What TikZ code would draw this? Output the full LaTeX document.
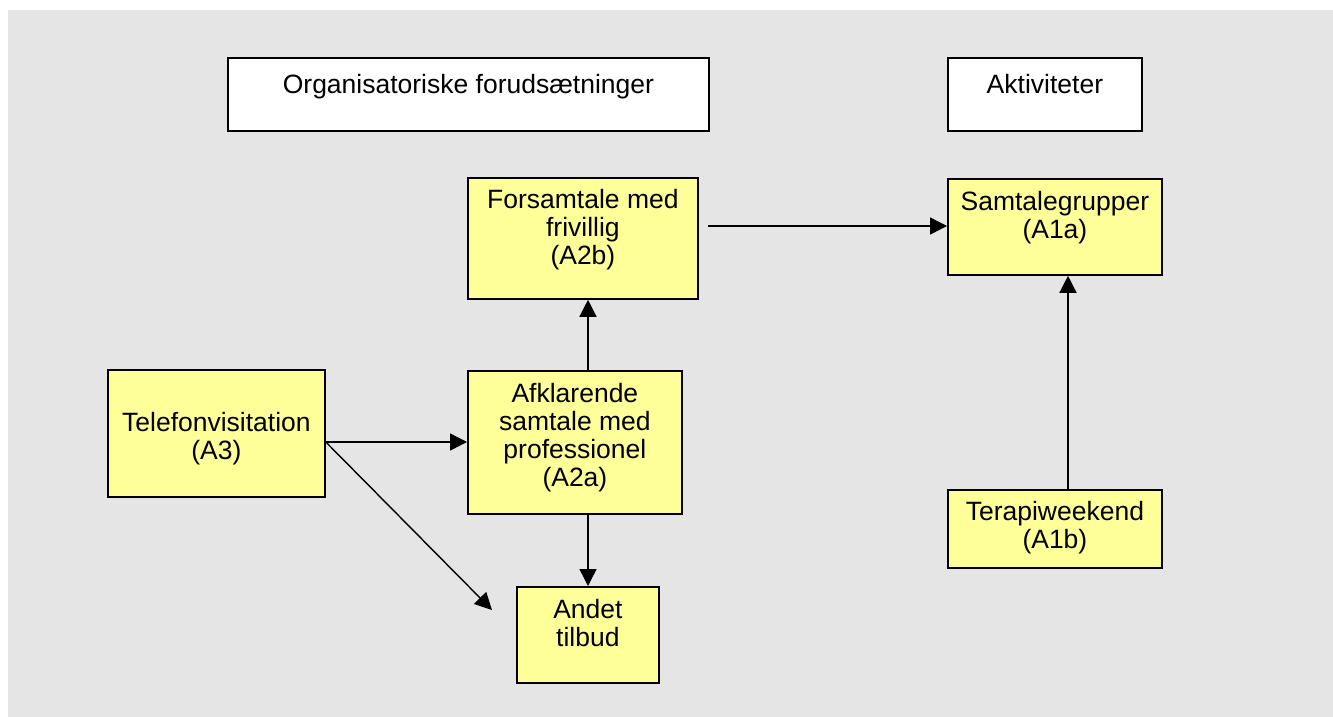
\documentclass[tikz,border=0pt]{standalone}
\usepackage{fontspec}
\setmainfont{Liberation Sans}
\usetikzlibrary{arrows.meta}
\definecolor{bggray}{HTML}{E5E5E5}
\definecolor{boxyellow}{HTML}{FFFF99}
\begin{document}
\begin{tikzpicture}[x=1pt,y=-1pt,
  boxbase/.style={draw=black, line width=1.8pt, inner sep=0pt, anchor=north west},
  yelbox/.style={boxbase, fill=boxyellow},
  whitebox/.style={boxbase, fill=white},
  lbl/.style={anchor=north, inner sep=0pt, align=center, font=\fontsize{26.5}{28}\selectfont},
  conn/.style={draw=black, line width=1.4pt, -{Triangle[length=17pt,width=17pt]}}
]
\useasboundingbox (0,0) rectangle (1333,717);
\fill[white] (0,0) rectangle (1333,717);
\fill[bggray] (8,10) rectangle (1333,717);

% boxes
\node[whitebox, minimum width=481pt, minimum height=73pt] (org) at (227,57) {};
\node[whitebox, minimum width=194pt, minimum height=73pt] (akt) at (947,57) {};
\node[yelbox, minimum width=230pt, minimum height=121pt] (a2b) at (467,177) {};
\node[yelbox, minimum width=214pt, minimum height=96pt] (a1a) at (947,178) {};
\node[yelbox, minimum width=217pt, minimum height=127pt] (a3) at (107,369) {};
\node[yelbox, minimum width=214pt, minimum height=143pt] (a2a) at (467,370) {};
\node[yelbox, minimum width=142pt, minimum height=96pt] (andet) at (516,586) {};
\node[yelbox, minimum width=214pt, minimum height=78pt] (a1b) at (947,489) {};

% labels
\node[lbl] (torg) at (org.north |- 0,74) {Organisatoriske forudsætninger};
\node[lbl] (takt) at (akt.north |- 0,74) {Aktiviteter};
\node[lbl] (ta2b) at (a2b.north |- 0,189) {Forsamtale med\\frivillig\\(A2b)};
\node[lbl] (ta1a) at (a1a.north |- 0,191) {Samtalegrupper\\(A1a)};
\node[lbl] (ta3) at (a3.north |- 0,412) {Telefonvisitation\\(A3)};
\node[lbl] (ta2a) at (a2a.north |- 0,383) {Afklarende\\samtale med\\professionel\\(A2a)};
\node[lbl] (tandet) at (andet.north |- 0,599) {Andet\\tilbud};
\node[lbl] (ta1b) at (a1b.north |- 0,501) {Terapiweekend\\(A1b)};

% helper coordinates
\coordinate (s1) at (708,226);
\coordinate (vx) at (588,0);
\coordinate (wx) at (1068,0);
\coordinate (hy) at (0,442);
\coordinate (tip) at (492,610);

% connectors
\draw[conn] (s1) -- (a1a.west |- s1);
\draw[conn] (a2a.north -| vx) -- (a2b.south -| vx);
\draw[conn] (a2a.south -| vx) -- (andet.north -| vx);
\draw[conn] (a1b.north -| wx) -- (a1a.south -| wx);
\draw[conn] (a3.east |- hy) -- (a2a.west |- hy);
\draw[conn] (a3.east |- hy) -- (tip);
\end{tikzpicture}
\end{document}
